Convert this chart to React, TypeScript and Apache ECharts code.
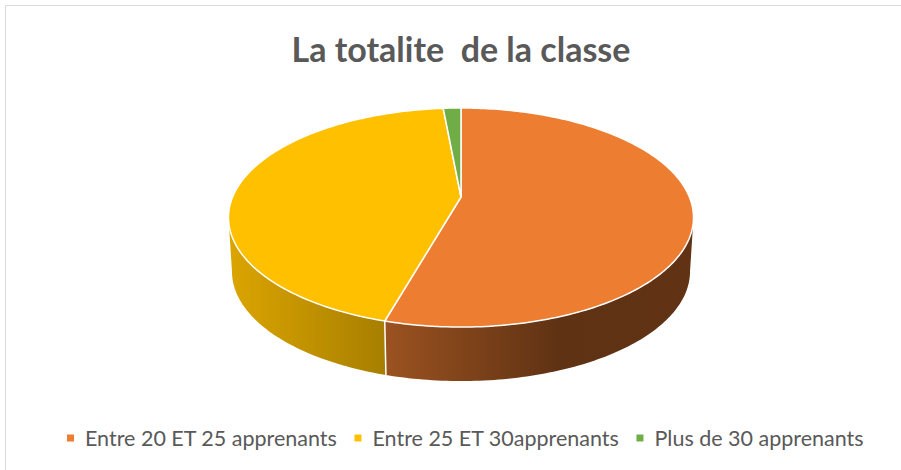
import React, { useEffect, useRef } from "react";
import * as echarts from "echarts";

const titleText = "La totalite  de la classe";
const categories = ["Entre 20 ET 25 apprenants", "Entre 25 ET 30apprenants", "Plus de 30 apprenants"];
const values = [37, 30, 1];
const colors = ["#ED7D31", "#FFC000", "#70AD47"];

// 3D projection parameters (layout only)
const CX = 461, CY = 197, A = 228.4, B = 105.7, K = 0.1872, D = 54, INSET = 0.985;
const TR = Math.acos(-K);
const TL = 2 * Math.PI - TR;

function topPt(t: number): number[] {
  const px = Math.sin(t), pz = Math.cos(t), w = 1 + K * pz;
  return [CX + (A * px) / w, CY - (B * pz) / w];
}
function botPt(t: number): number[] {
  const p = topPt(t);
  return [CX + (p[0] - CX) * INSET, p[1] + D];
}
function arc(f: (t: number) => number[], a: number, b: number): number[][] {
  const n = Math.max(2, Math.ceil(Math.abs(b - a) / (Math.PI / 180)));
  const pts: number[][] = [];
  for (let j = 0; j <= n; j++) pts.push(f(a + ((b - a) * j) / n));
  return pts;
}
function shade(hex: string, f: number): string {
  const r = parseInt(hex.slice(1, 3), 16), g = parseInt(hex.slice(3, 5), 16), b = parseInt(hex.slice(5, 7), 16);
  return `rgb(${Math.round(r * f)},${Math.round(g * f)},${Math.round(b * f)})`;
}

export default function App() {
  const ref = useRef<HTMLDivElement>(null);
  useEffect(() => {
    if (!ref.current) return;
    const chart = echarts.init(ref.current, null, { renderer: "svg" });
    const total = values.reduce((s, v) => s + v, 0);
    const series = categories.map((name, i) => ({
      type: "custom",
      name,
      coordinateSystem: "none",
      data: [values[i]],
      itemStyle: { color: colors[i] },
      renderItem: (params: any, api: any) => {
        const v = api.value(0);
        const before = values.slice(0, i).reduce((s, x) => s + x, 0);
        const a = (before / total) * Math.PI * 2;
        const b = a + (v / total) * Math.PI * 2;
        const children: any[] = [];
        const lo = Math.max(a, TR), hi = Math.min(b, TL);
        if (hi > lo) {
          const pts = arc(topPt, lo, hi).concat(arc(botPt, hi, lo));
          children.push({
            type: "polygon",
            shape: { points: pts },
            style: {
              fill: new echarts.graphic.LinearGradient(229, 0, 694, 0, [
                { offset: 0, color: shade(colors[i], 0.86) },
                { offset: 0.33, color: shade(colors[i], 0.66) },
                { offset: 0.71, color: shade(colors[i], 0.4) },
                { offset: 1, color: shade(colors[i], 0.41) },
              ], true),
            },
          });
        }
        if (a > TR && a < TL) {
          const p = topPt(a), q = botPt(a);
          children.push({
            type: "line",
            shape: { x1: p[0], y1: p[1], x2: q[0], y2: q[1] },
            style: { stroke: "#ffffff", lineWidth: 1.5 },
          });
        }
        children.push({
          type: "polygon",
          shape: { points: [[CX, CY]].concat(arc(topPt, a, b)) },
          style: { fill: colors[i], stroke: "#ffffff", lineWidth: 1.5, lineJoin: "round" },
        });
        return { type: "group", children };
      },
    }));
    chart.setOption({
      animation: false,
      graphic: [
        {
          type: "rect",
          silent: true,
          shape: { x: 5.5, y: 5.5, width: 1000, height: 1000 },
          style: { fill: "none", stroke: "#d9d9d9", lineWidth: 1 },
        },
        {
          type: "text",
          x: 461,
          y: 48,
          style: {
            text: titleText,
            align: "center",
            verticalAlign: "middle",
            fill: "#595959",
            fontSize: 34,
            fontWeight: "bold",
            fontFamily: "Lato",
          },
        },
      ],
      legend: {
        data: categories,
        left: 67,
        top: 427,
        padding: 0,
        icon: "rect",
        itemWidth: 7,
        itemHeight: 7,
        itemGap: 17,
        textStyle: { fontSize: 21.5, color: "#595959", fontFamily: "Lato", padding: [0, 0, 0, 6] },
      },
      series,
    });
    return () => chart.dispose();
  }, []);
  return (
    <div
      ref={ref}
      style={{ position: "fixed", left: 0, top: 0, width: 901, height: 470, background: "#ffffff" }}
    />
  );
}
